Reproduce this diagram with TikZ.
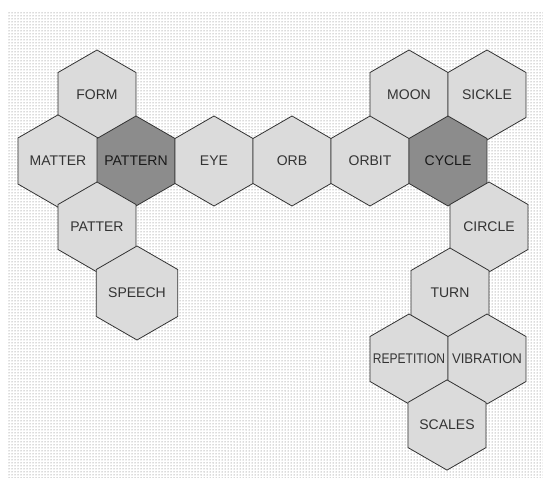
\documentclass[tikz,border=0pt]{standalone}
\usepackage{fontspec}
\setmainfont{Liberation Sans}
\usetikzlibrary{shapes.geometric,patterns}

\begin{document}
\begin{tikzpicture}[x=1pt,y=-1pt,hex/.style={regular polygon,regular polygon sides=6,shape border rotate=30,minimum size=90pt,inner sep=0pt,draw=black!80,line width=.8pt,fill=black!14,text=black!80,font=\fontsize{14}{16}\selectfont},key/.style={hex,fill=black!45,text=black!90}]
\useasboundingbox (0,0) rectangle (543,478);
\fill[white] (0,0) rectangle (543,478);
\fill[pattern=dots,pattern color=black!60] (8,12) rectangle (543,478);
% top row
\node[hex] (form) at (97,95) {FORM};
\node[hex] (moon) at (409,95) {MOON};
\node[hex] (sickle) at (487,95) {SICKLE};
% main row
\node[hex] (matter) at (58,161) {MATTER};
\node[key] (pattern) at (136,161) {\makebox[0pt]{PATTERN}};
\node[hex] (eye) at (214,161) {EYE};
\node[hex] (orb) at (292,161) {ORB};
\node[hex] (orbit) at (370,161) {ORBIT};
\node[key] (cycle) at (448,161) {CYCLE};
% left branch
\node[hex] (patter) at (97,227) {PATTER};
\node[hex] (speech) at (137,293) {SPEECH};
% right branch
\node[hex] (circle) at (489,227) {CIRCLE};
\node[hex] (turn) at (450,293) {TURN};
\node[hex] (rep) at (409,359) {\makebox[0pt]{\scalebox{.86}[1]{REPETITION}}};
\node[hex] (vib) at (487,359) {\makebox[0pt]{\scalebox{.94}[1]{VIBRATION}}};
\node[hex] (scales) at (447,425) {SCALES};
\end{tikzpicture}
\end{document}
